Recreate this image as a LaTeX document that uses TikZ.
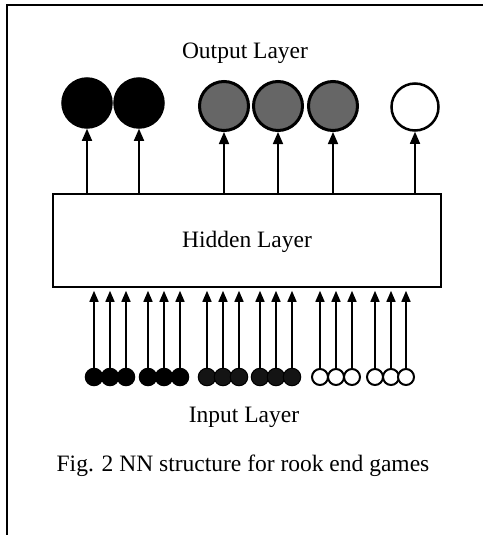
\documentclass[tikz,border=0pt]{standalone}
\usepackage{fontspec}
\setmainfont{Liberation Serif}
\usetikzlibrary{arrows.meta}
\begin{document}
\begin{tikzpicture}[x=1pt,y=-1pt,
  lbl/.style={font=\fontsize{23.5}{28}\selectfont, inner sep=0pt, anchor=base},
  outblack/.style={circle, minimum size=50pt, inner sep=0pt, fill=black, draw=black, line width=1.5pt},
  outgray/.style={circle, minimum size=49pt, inner sep=0pt, fill=black!60, draw=black, line width=3pt},
  outwhite/.style={circle, minimum size=47pt, inner sep=0pt, fill=white, draw=black, line width=2.5pt},
  inblack/.style={circle, minimum size=17.5pt, inner sep=0pt, fill=black, draw=black, line width=1pt},
  indark/.style={circle, minimum size=17.5pt, inner sep=0pt, fill=black!92, draw=black, line width=1pt},
  inwhite/.style={circle, minimum size=16pt, inner sep=0pt, fill=white, draw=black, line width=2pt},
  hbox/.style={draw=black, line width=1.6pt, minimum width=388pt, minimum height=93pt, inner sep=0pt},
  oarr/.style={line width=1.6pt, -{Triangle[width=10pt,length=12pt]}},
  iarr/.style={line width=1.6pt, -{Triangle[width=9pt,length=11pt]}, shorten >=3pt},
  frame/.style={line width=2pt}]
\useasboundingbox (0,0) rectangle (483,535);
% frame
\coordinate (ftl) at (7,5);
\coordinate (fbl) at (7,535);
\coordinate (ftr) at (483,5);
\draw[frame] (fbl) -- (ftl) -- (ftr);
% labels
\node[lbl] (outlbl) at (245,59) {Output Layer};
\node[lbl] (inlbl) at (244,422) {Input Layer};
\node[lbl] (cap) at (243,471) {Fig. 2 NN structure for rook end games};
% hidden layer
\node[hbox] (h) at (247,240.5) {};
\node[lbl] (hlbl) at (247,247) {Hidden Layer};
% output layer
\node[outblack] (o1) at (87,103) {};
\node[outblack] (o2) at (139,103) {};
\node[outgray] (o3) at (224,106) {};
\node[outgray] (o4) at (278,106) {};
\node[outgray] (o5) at (333,106) {};
\node[outwhite] (o6) at (415,107) {};
\foreach \i in {1,...,6} {
  \draw[oarr] (h.north -| o\i) -- (o\i);
}
% input layer
\foreach \i/\x/\s in {1/94/inblack,2/110/inblack,3/126/inblack,
                      4/148/inblack,5/164/inblack,6/180/inblack,
                      7/207/indark,8/223/indark,9/239/indark,
                      10/260/indark,11/276/indark,12/292/indark,
                      13/320/inwhite,14/336/inwhite,15/352/inwhite,
                      16/375/inwhite,17/391/inwhite,18/406/inwhite} {
  \node[\s] (i\i) at (\x,377) {};
}
\foreach \i in {1,...,18} {
  \draw[iarr] (i\i) -- (i\i |- h.south);
}
\end{tikzpicture}
\end{document}
